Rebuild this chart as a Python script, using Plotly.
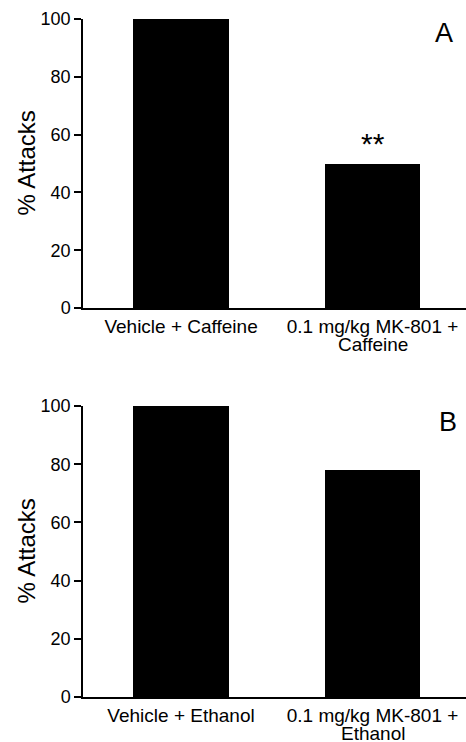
import plotly.graph_objects as go

# category labels, one list entry per line of text
labels_a = [["Vehicle + Caffeine"], ["0.1 mg/kg MK-801 +", "Caffeine"]]
values_a = [100, 50]
labels_b = [["Vehicle + Ethanol"], ["0.1 mg/kg MK-801 +", "Ethanol"]]
values_b = [100, 78]
y_ticks = [0, 20, 40, 60, 80, 100]
panel_labels = ["A", "B"]
sig_a = ["", "**"]
y_title = "% Attacks"

FONT = "Liberation Sans, Arial, Helvetica, sans-serif"

fig = go.Figure()
pos = [0, 1]
fig.add_trace(go.Bar(x=pos, y=values_a, width=0.5, marker=dict(color="black", line=dict(width=0)),
                     xaxis="x", yaxis="y", showlegend=False))
fig.add_trace(go.Bar(x=pos, y=values_b, width=0.5, marker=dict(color="black", line=dict(width=0)),
                     xaxis="x2", yaxis="y2", showlegend=False))

axis_common_y = dict(range=[0, 100], tickvals=y_ticks, ticks="outside", ticklen=7, tickwidth=1.5,
                     tickcolor="black", showline=True, linecolor="black", linewidth=1.5,
                     showgrid=False, zeroline=False, automargin=False,
                     tickfont=dict(size=18, color="black", family=FONT))
axis_common_x = dict(range=[-0.512, 1.488], tickvals=pos, ticks="",
                     showline=True, linecolor="black",
                     linewidth=1.5, showgrid=False, zeroline=False, automargin=False,
                     tickfont=dict(size=19, color="black", family=FONT))

fig.update_layout(
    width=466, height=742,
    margin=dict(l=83, r=0, t=19, b=45),
    paper_bgcolor="white", plot_bgcolor="white",
    bargap=0,
    xaxis=dict(domain=[0, 1], anchor="y", ticktext=[l[0] for l in labels_a], **axis_common_x),
    yaxis=dict(domain=[0.5737, 1], anchor="x", **axis_common_y),
    xaxis2=dict(domain=[0, 1], anchor="y2", ticktext=[l[0] for l in labels_b], **axis_common_x),
    yaxis2=dict(domain=[0, 0.4292], anchor="x2", **axis_common_y),
)

# continuation lines of the category labels (tight line spacing as in the original)
for xref, yref, labels in [("x", "y domain", labels_a), ("x2", "y2 domain", labels_b)]:
    for i, lines in enumerate(labels):
        for j, line in enumerate(lines[1:], start=1):
            fig.add_annotation(x=pos[i], y=0, xref=xref, yref=yref, text=line, showarrow=False,
                               xanchor="center", yanchor="middle", yshift=-17 - 19.5 * j,
                               font=dict(size=19, color="black", family=FONT))

# y-axis titles
for yref in ["y domain", "y2 domain"]:
    fig.add_annotation(x=0, y=0.5, xref="paper", yref=yref, xshift=-56, text=y_title,
                       showarrow=False, textangle=-90, xanchor="center", yanchor="middle",
                       font=dict(size=24, color="black", family=FONT))

# panel letters
fig.add_annotation(x=1.375, y=95, xref="x", yref="y", text=panel_labels[0], showarrow=False,
                   font=dict(size=27, color="black", family=FONT))
fig.add_annotation(x=1.395, y=94.5, xref="x2", yref="y2", text=panel_labels[1], showarrow=False,
                   font=dict(size=27, color="black", family=FONT))
# significance
for i, s in enumerate(sig_a):
    if s:
        fig.add_annotation(x=pos[i], y=values_a[i], xref="x", yref="y", text=s, showarrow=False,
                           yanchor="bottom", yshift=2, font=dict(size=30, color="black", family=FONT))

fig.write_html("out.html")
